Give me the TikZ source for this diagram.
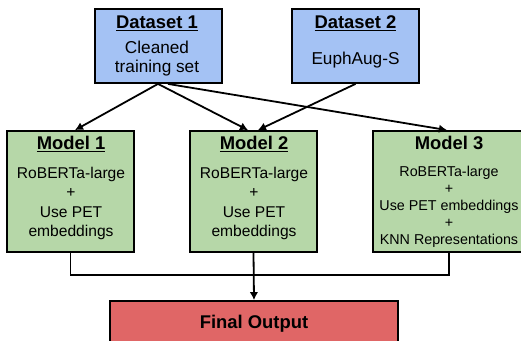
\documentclass[tikz,border=0pt]{standalone}
\usepackage{fontspec}
\setmainfont{Liberation Sans}
\usetikzlibrary{arrows.meta}
\definecolor{dsblue}{HTML}{A4C2F4}
\definecolor{mdgreen}{HTML}{B6D7A8}
\definecolor{outred}{HTML}{E06666}
\tikzset{
  box/.style={draw=black, line width=1.8pt, inner sep=0pt, minimum width=127pt, minimum height=74pt},
  title/.style={inner sep=0pt, anchor=base, font=\fontsize{18.4}{22}\selectfont\bfseries},
  body/.style={inner sep=0pt, align=center, font=\fontsize{15.6}{19.3}\selectfont},
  conn/.style={line width=1.8pt},
  arr/.style={conn, -{Latex[length=8pt,width=8.5pt]}}
}
\begin{document}
\begin{tikzpicture}[x=1pt,y=-1pt]
\useasboundingbox (0,0) rectangle (521,340);
\clip (0,0) rectangle (521,340);
% datasets
\node[box, fill=dsblue] (d1) at (158.5,46) {};
\node[box, fill=dsblue] (d2) at (355.5,46) {};
% models
\node[box, fill=mdgreen, minimum height=121pt] (m1) at (70.5,191.5) {};
\node[box, fill=mdgreen, minimum height=121pt] (m2) at (253.5,191.5) {};
\node[box, fill=mdgreen, minimum height=121pt, minimum width=152pt] (m3) at (449,191.5) {};
% output
\node[box, fill=outred, minimum width=288pt, minimum height=60pt] (out) at (254,331) {};
% texts
\node[title] (d1t) at (157,28.6) {\underline{Dataset 1}};
\node[body, font=\fontsize{17.2}{19}\selectfont] (d1b) at (157,59) {Cleaned\\training set};
\node[title] (d2t) at (355.5,28.6) {\underline{Dataset 2}};
\node[body, font=\fontsize{17.2}{19}\selectfont] (d2b) at (355.5,60.5) {EuphAug-S};
\node[title] (m1t) at (71,149.6) {\underline{Model 1}};
\node[body] (m1b) at (71,203.5) {RoBERTa-large\\+\\Use PET\\embeddings};
\node[title] (m2t) at (254,149.6) {\underline{Model 2}};
\node[body] (m2b) at (254,203.5) {RoBERTa-large\\+\\Use PET\\embeddings};
\node[title] (m3t) at (449,149.6) {Model 3};
\node[body, font=\fontsize{14.3}{17}\selectfont] (m3b) at (449,206.5) {RoBERTa-large\\+\\Use PET embeddings\\+\\KNN Representations};
\node[title] (outt) at (254,328.6) {Final Output};
% arrows from datasets
\coordinate (d1a) at ([xshift=-0.5pt]d1.south);
\coordinate (d1c) at ([xshift=9.5pt]d1.south);
\draw[arr] (d1a) -- ([xshift=4.5pt]m1.north);
\draw[arr] (d1a) -- ([xshift=-5.5pt]m2.north);
\draw[arr] (d1c) -- ([xshift=-2pt]m3.north);
\draw[arr] (d2.south) -- ([xshift=4.5pt]m2.north);
% to output
\coordinate (j1) at (m1.south |- 0,275);
\coordinate (j3) at (m3.south |- 0,275);
\draw[conn] (m1.south) -- (j1) -- (j3) -- (m3.south);
\draw[arr] (m2.south) -- (out.north);
\end{tikzpicture}
\end{document}
